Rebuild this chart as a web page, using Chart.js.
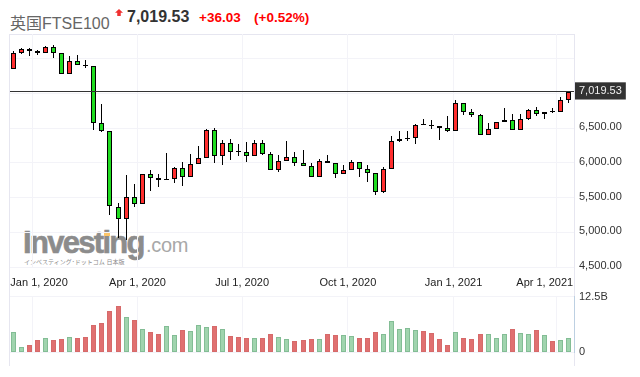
<!DOCTYPE html>
<html>
<head>
<meta charset="utf-8">
<script src="https://cdn.jsdelivr.net/npm/chart.js@4"></script>
<style>
    html, body { margin: 0; padding: 0; background: #fff; overflow: hidden; }
    body { width: 640px; height: 377px; position: relative; font-family: "Liberation Sans", "Noto Sans CJK JP", sans-serif; }
    canvas { position: absolute; left: 0; }
    #frame { position: absolute; left: 9px; top: 34px; width: 564px; height: 331px; border: 1px solid #e6e6f0; border-bottom: 0; }
    .head { position: absolute; white-space: nowrap; }
    #name { left: 10px; top: 10px; font-size: 16px; color: #666; }
    #arrow { left: 115px; top: 9px; width: 8px; height: 7px; background: #f03030; clip-path: polygon(50% 0, 100% 55%, 72% 55%, 72% 100%, 28% 100%, 28% 55%, 0 55%); }
    #price { left: 127px; top: 8px; font-size: 16px; font-weight: bold; color: #333; }
    #change { left: 199px; top: 10px; font-size: 13.5px; font-weight: bold; color: #f00; }
    #percent { left: 254px; top: 10px; font-size: 13.5px; font-weight: bold; color: #f00; }
    #logo { left: 23px; top: 225px; font-size: 31px; line-height: 36px; font-weight: bold; letter-spacing: -1.7px; color: #8c8c8c; -webkit-text-stroke: 0.6px #8c8c8c; }
    #logo2 { left: 146px; top: 232px; font-size: 20px; line-height: 26px; letter-spacing: -0.3px; color: #a8a8a8; }
    #logo3 { left: 24px; top: 258px; font-size: 6px; line-height: 8px; color: #8c8c8c; }
    #dot { left: 104px; top: 232px; width: 6px; height: 4px; background: #fbc56a; }
</style>
</head>
<body>
<div id="frame"></div>
<div id="logo" class="head">Investing</div>
<div id="dot" class="head"></div>
<div id="logo2" class="head">.com</div>
<div id="logo3" class="head">インベスティング･ドットコム 日本版</div>
<div id="name" class="head">英国FTSE100</div>
<div id="arrow" class="head"></div>
<div id="price" class="head">7,019.53</div>
<div id="change" class="head">+36.03</div>
<div id="percent" class="head">(+0.52%)</div>
<canvas id="priceChart" width="640" height="295" style="top:0"></canvas>
<canvas id="volumeChart" width="640" height="82" style="top:285px"></canvas>
<script>
const weeks = [
    "2019-12-15", "2019-12-22", "2019-12-29", "2020-01-05", "2020-01-12", "2020-01-19", "2020-01-26",
    "2020-02-02", "2020-02-09", "2020-02-16", "2020-02-23", "2020-03-01", "2020-03-08", "2020-03-15",
    "2020-03-22", "2020-03-29", "2020-04-05", "2020-04-12", "2020-04-19", "2020-04-26", "2020-05-03",
    "2020-05-10", "2020-05-17", "2020-05-24", "2020-05-31", "2020-06-07", "2020-06-14", "2020-06-21",
    "2020-06-28", "2020-07-05", "2020-07-12", "2020-07-19", "2020-07-26", "2020-08-02", "2020-08-09",
    "2020-08-16", "2020-08-23", "2020-08-30", "2020-09-06", "2020-09-13", "2020-09-20", "2020-09-27",
    "2020-10-04", "2020-10-11", "2020-10-18", "2020-10-25", "2020-11-01", "2020-11-08", "2020-11-15",
    "2020-11-22", "2020-11-29", "2020-12-06", "2020-12-13", "2020-12-20", "2020-12-27", "2021-01-03",
    "2021-01-10", "2021-01-17", "2021-01-24", "2021-01-31", "2021-02-07", "2021-02-14", "2021-02-21",
    "2021-02-28", "2021-03-07", "2021-03-14", "2021-03-21", "2021-03-28", "2021-04-04", "2021-04-11",
];
const opens = [
    7354, 7578, 7636, 7613, 7584, 7671, 7584, 7282, 7469, 7403,
    7397, 6577, 6456, 5368, 5196, 5512, 5411, 5843, 5786, 5757,
    5771, 5929, 5800, 5987, 6073, 6476, 6102, 6289, 6160, 6160,
    6102, 6289, 6131, 5901, 6030, 6088, 6001, 5958, 5800, 6030,
    6001, 5843, 5901, 6016, 5915, 5858, 5584, 5915, 6318, 6347,
    6361, 6548, 6530, 6534, 6505, 6462, 6865, 6735, 6692, 6404,
    6491, 6591, 6620, 6476, 6634, 6764, 6706, 6735, 6735, 6908,
];
const closes = [
    7584, 7636, 7613, 7584, 7671, 7584, 7282, 7469, 7412, 7390,
    6577, 6456, 5373, 5196, 5512, 5411, 5843, 5786, 5757, 5771,
    5929, 5800, 5987, 6073, 6476, 6102, 6289, 6160, 6153, 6102,
    6289, 6131, 5901, 6030, 6088, 6001, 5958, 5800, 6030, 6001,
    5843, 5901, 6016, 5915, 5858, 5584, 5915, 6318, 6347, 6361,
    6548, 6542, 6545, 6505, 6462, 6865, 6735, 6692, 6404, 6491,
    6591, 6620, 6476, 6634, 6764, 6706, 6735, 6728, 6908, 7019.53,
];
const highs = [
    7603, 7656, 7646, 7627, 7685, 7690, 7584, 7531, 7545, 7483,
    7397, 6850, 6456, 5426, 5819, 5699, 5843, 5901, 5843, 6145,
    5944, 6016, 6121, 6236, 6491, 6505, 6322, 6347, 6265, 6304,
    6322, 6322, 6160, 6117, 6308, 6160, 6178, 6001, 6059, 6117,
    6001, 5963, 6045, 6016, 5963, 5858, 5944, 6390, 6462, 6462,
    6563, 6634, 6620, 6534, 6678, 6908, 6865, 6778, 6706, 6577,
    6591, 6793, 6706, 6706, 6778, 6807, 6735, 6793, 6951, 7032,
];
const lows = [
    7354, 7570, 7541, 7555, 7584, 7507, 7282, 7282, 7412, 7358,
    6476, 6447, 5247, 4917, 4883, 5362, 5411, 5593, 5650, 5757,
    5708, 5665, 5800, 5987, 6073, 5996, 5967, 6035, 6102, 6010,
    6102, 6117, 5901, 5866, 6030, 5953, 5958, 5800, 5800, 6001,
    5780, 5837, 5901, 5794, 5722, 5535, 5570, 5915, 6304, 6312,
    6275, 6542, 6491, 6332, 6442, 6462, 6692, 6657, 6404, 6404,
    6491, 6591, 6476, 6476, 6620, 6672, 6629, 6720, 6735, 6865,
];
// billions
const volumes = [
    4.52, 1.08, 1.58, 2.8, 3.23, 2.8, 3.02, 3.45, 3.23, 3.45,
    6.03, 6.46, 9.26, 10.34, 7.97, 7.11, 5.17, 4.52, 4.09, 5.82,
    3.88, 4.95, 4.74, 6.03, 5.6, 5.82, 5.17, 3.66, 3.45, 3.23,
    3.23, 3.23, 4.09, 3.45, 3.02, 2.37, 2.8, 3.02, 3.02, 4.09,
    3.88, 3.88, 3.66, 3.23, 3.23, 4.52, 4.09, 6.89, 5.17, 5.39,
    4.95, 4.74, 4.31, 3.02, 1.51, 4.52, 3.23, 3.02, 4.09, 4.09,
    3.23, 4.09, 5.17, 4.31, 4.09, 4.95, 3.88, 2.58, 2.8, 3.23,
];
const volumeFalling = [
    0, 0, 1, 1, 0, 1, 1, 0, 1, 1,
    1, 1, 1, 1, 0, 1, 0, 1, 1, 0,
    0, 1, 0, 0, 0, 1, 0, 1, 1, 1,
    0, 1, 1, 0, 0, 1, 1, 1, 0, 1,
    1, 0, 0, 1, 1, 1, 0, 0, 0, 0,
    0, 1, 1, 1, 1, 0, 1, 1, 1, 0,
    0, 0, 1, 0, 0, 1, 0, 1, 0, 0,
];
const dateTicks = ["2020-01-01", "2020-04-01", "2020-07-01", "2020-10-01", "2021-01-01", "2021-04-01"];
const dateLabels = ["    Jan 1, 2020", "Apr 1, 2020", "Jul 1, 2020", "Oct 1, 2020", "Jan 1, 2021", "Apr 1, 2021        "];
const priceTicks = [7500, 7019.53, 7000, 6500, 6000, 5500, 5000, 4500];
const priceLabels = ["", "7,019.53", "", "6,500.00", "6,000.00", "5,500.00", "5,000.00", "4,500.00"];
const volumeTicks = [12.5, 0];
const volumeLabels = ["12.5B", "0"];
const lastPrice = 7019.53;

const DAY = 86400000;
const toDay = (d) => Date.parse(d) / DAY;
const xMin = toDay(weeks[0]) - 3;
const xMax = toDay(weeks[0]) + 487.8;

Chart.defaults.font.family = '"Liberation Sans", Arial, sans-serif';
Chart.defaults.font.size = 11;
Chart.defaults.animation = false;

// candles and volume look sharp only when they sit on whole pixels
const snapBars = {
    id: "snapBars",
    afterDatasetsUpdate(chart) {
        chart.getSortedVisibleDatasetMetas().forEach((meta) => {
            if (meta.type !== "bar") return;
            meta.data.forEach((bar) => {
                bar.x = Math.floor(bar.x) + 0.5;
                bar.y = Math.round(bar.y);
                bar.base = Math.round(bar.base);
                if (bar.y === bar.base) bar.base += 1;
            });
        });
    },
};

const xAxis = (showLabels, height) => ({
    type: "linear",
    offset: false,
    min: xMin,
    max: xMax,
    afterBuildTicks: (scale) => {
        scale.ticks = dateTicks.map((d) => ({ value: toDay(d) }));
    },
    afterFit: (scale) => {
        scale.height = height;
        // the edge labels must not push the plot inwards
        scale.paddingLeft = 0;
        scale.paddingRight = 0;
    },
    ticks: {
        display: showLabels,
        autoSkip: false,
        maxRotation: 0,
        padding: 9,
        color: "#222",
        callback: (value, i) => dateLabels[i],
    },
    grid: { color: "#f3f3f8", drawTicks: false, offset: false },
    border: { display: false },
});

const priceChart = new Chart(document.getElementById("priceChart"), {
    data: {
        datasets: [
            {
                type: "bar",
                label: "Body",
                order: 1,
                grouped: false,
                barThickness: 5,
                minBarLength: 1,
                inflateAmount: 0,
                borderWidth: 1,
                borderSkipped: false,
                borderColor: "#000",
                backgroundColor: (c) => closes[c.dataIndex] >= opens[c.dataIndex] ? "#ff2e2e" : "#20dd20",
                data: weeks.map((w, i) => ({ x: toDay(w), y: [opens[i], closes[i]] })),
            },
            {
                type: "bar",
                label: "Wick",
                order: 2,
                grouped: false,
                barThickness: 1,
                inflateAmount: 0,
                borderWidth: 0,
                backgroundColor: "#000",
                data: weeks.map((w, i) => ({ x: toDay(w), y: [lows[i], highs[i]] })),
            },
        ],
    },
    options: {
        responsive: false,
        layout: { padding: { left: 10, top: 34, right: 0, bottom: 0 } },
        plugins: { legend: { display: false }, tooltip: { enabled: false } },
        scales: {
            x: xAxis(true, 28),
            y: {
                type: "linear",
                position: "right",
                min: 4500,
                max: 7853,
                afterBuildTicks: (scale) => {
                    scale.ticks = priceTicks.map((v) => ({ value: v }));
                },
                afterFit: (scale) => {
                    scale.width = 66;
                },
                ticks: {
                    autoSkip: false,
                    padding: 5,
                    labelOffset: -1,
                    color: (c) => c.tick.value === lastPrice ? "#f0f0f0" : "#333",
                    showLabelBackdrop: (c) => c.tick.value === lastPrice,
                    backdropColor: "#333",
                    backdropPadding: { left: 4, right: 4, top: 2, bottom: 2 },
                    callback: (value, i) => priceLabels[i],
                },
                grid: {
                    color: (c) => c.tick.value === lastPrice ? "rgba(0,0,0,0)" : "#f3f3f8",
                    drawTicks: false,
                },
                border: { display: false },
            },
            // carries only the last price line, which runs over the candles
            lastLine: {
                type: "linear",
                position: "right",
                min: 4500,
                max: 7853,
                afterBuildTicks: (scale) => {
                    scale.ticks = [{ value: lastPrice }];
                },
                afterFit: (scale) => {
                    scale.width = 0;
                },
                ticks: { display: false },
                grid: { color: "#333", z: 1, drawTicks: false },
                border: { display: false },
            },
        },
    },
    plugins: [snapBars],
});

const volumeChart = new Chart(document.getElementById("volumeChart"), {
    data: {
        datasets: [
            {
                type: "bar",
                label: "Volume",
                barThickness: 5,
                inflateAmount: 0,
                borderWidth: 1,
                borderSkipped: false,
                borderColor: (c) => volumeFalling[c.dataIndex] ? "#d66a6a" : "#83bd95",
                backgroundColor: (c) => volumeFalling[c.dataIndex] ? "#e07070" : "#a0d4ae",
                data: weeks.map((w, i) => ({ x: toDay(w), y: volumes[i] })),
            },
        ],
    },
    options: {
        responsive: false,
        layout: { padding: { left: 10, top: 9, right: 0, bottom: 0 } },
        plugins: { legend: { display: false }, tooltip: { enabled: false } },
        scales: {
            x: xAxis(false, 15),
            y: {
                type: "linear",
                position: "right",
                min: 0,
                max: 12.5,
                afterBuildTicks: (scale) => {
                    scale.ticks = volumeTicks.map((v) => ({ value: v }));
                },
                afterFit: (scale) => {
                    scale.width = 66;
                },
                ticks: {
                    autoSkip: false,
                    padding: 5,
                    color: "#333",
                    callback: (value, i) => volumeLabels[i],
                },
                grid: { color: "#f3f3f8", drawTicks: false },
                border: { display: true, color: "#bdd0e2" },
            },
        },
    },
    plugins: [snapBars],
});
</script>
</body>
</html>
